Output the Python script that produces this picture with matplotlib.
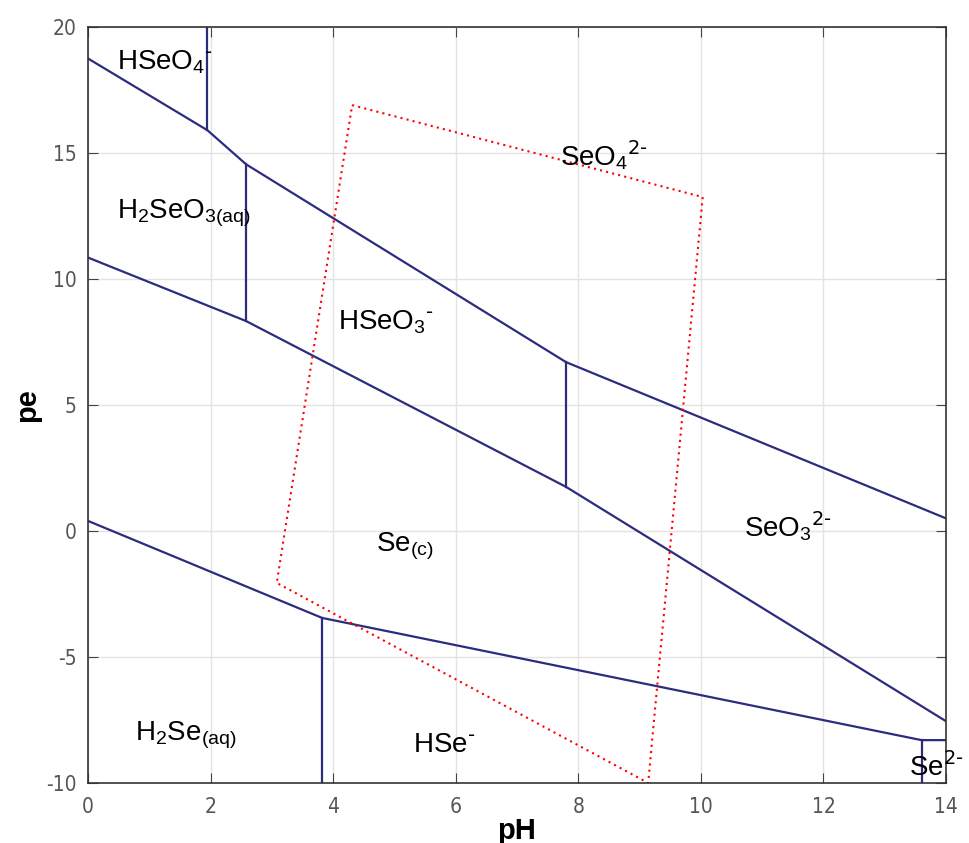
import matplotlib
matplotlib.use("Agg")
import matplotlib.pyplot as plt

plt.rcParams['font.family'] = ['Liberation Sans', 'DejaVu Sans']
plt.rcParams['mathtext.default'] = 'regular'
plt.rcParams['axes.unicode_minus'] = False

navy = '#2c2c7e'

# boundary lines (pH, pe)
top_ph = [0, 1.95, 2.58, 7.8, 14]
top_pe = [18.75, 15.9, 14.55, 6.7, 0.5]

mid_ph = [0, 2.58, 7.8, 14]
mid_pe = [10.85, 8.33, 1.75, -7.55]

low_ph = [0, 3.82, 13.6, 14]
low_pe = [0.4, -3.45, -8.3, -8.3]

# vertical boundaries: pH, pe bottom, pe top
vert_ph = [1.95, 2.58, 7.8, 3.82, 13.6]
vert_lo = [15.9, 8.33, 1.75, -10, -10]
vert_hi = [20, 14.55, 6.7, -3.45, -8.3]

# red dotted box
box_ph = [4.31, 10.03, 9.14, 3.08, 4.31]
box_pe = [16.9, 13.25, -10, -2.06, 16.9]

labels = [r'HSeO$_4$$^{\text{-}}$', r'SeO$_4$$^{\text{2-}}$', r'H$_2$SeO$_{3(aq)}$',
          r'HSeO$_3$$^{\text{-}}$', r'SeO$_3$$^{\text{2-}}$', r'Se$_{(c)}$',
          r'H$_2$Se$_{(aq)}$', r'HSe$^{\text{-}}$', r'Se$^{\text{2-}}$']
label_ph = [0.48, 7.7, 0.48, 4.08, 10.7, 4.7, 0.77, 5.3, 13.4]
label_pe = [18.6, 14.9, 12.6, 8.3, 0.2, -0.6, -8.1, -8.5, -9.4]

fig = plt.figure(figsize=(9.7, 8.43), dpi=100)
ax = fig.add_axes([0.0907, 0.0712, 0.8846, 0.8968])

ax.plot(top_ph, top_pe, color=navy, lw=1.6)
ax.plot(mid_ph, mid_pe, color=navy, lw=1.6)
ax.plot(low_ph, low_pe, color=navy, lw=1.6)
for x, lo, hi in zip(vert_ph, vert_lo, vert_hi):
    ax.plot([x, x], [lo, hi], color=navy, lw=1.6)

ax.plot(box_ph, box_pe, color='red', lw=1.5, ls=(0, (1, 2)))

for t, x, y in zip(labels, label_ph, label_pe):
    ax.text(x, y, t, fontsize=20, va='center', ha='left', clip_on=False)

ax.set_xlim(0, 14)
ax.set_ylim(-10, 20)
ax.set_xticks(range(0, 15, 2))
ax.set_yticks(range(-10, 21, 5))
ax.grid(True, color='#e3e3e3', lw=1)
ax.set_axisbelow(True)
ax.tick_params(direction='in', length=7, top=True, right=True, colors='#444444',
               labelsize=15, labelcolor='#555555')
ax.tick_params(axis='x', pad=10)
ax.tick_params(axis='y', pad=8)
for lab in ax.get_xticklabels() + ax.get_yticklabels():
    lab.set_family('DejaVu Sans')
    lab.set_stretch('condensed')
for s in ax.spines.values():
    s.set_color('#333333')
    s.set_linewidth(1.2)

ax.set_xlabel('pH', fontsize=21, fontweight='bold', labelpad=0)
ax.set_ylabel('pe', fontsize=21, fontweight='bold', labelpad=4)

fig.savefig('out.png', dpi=100)
